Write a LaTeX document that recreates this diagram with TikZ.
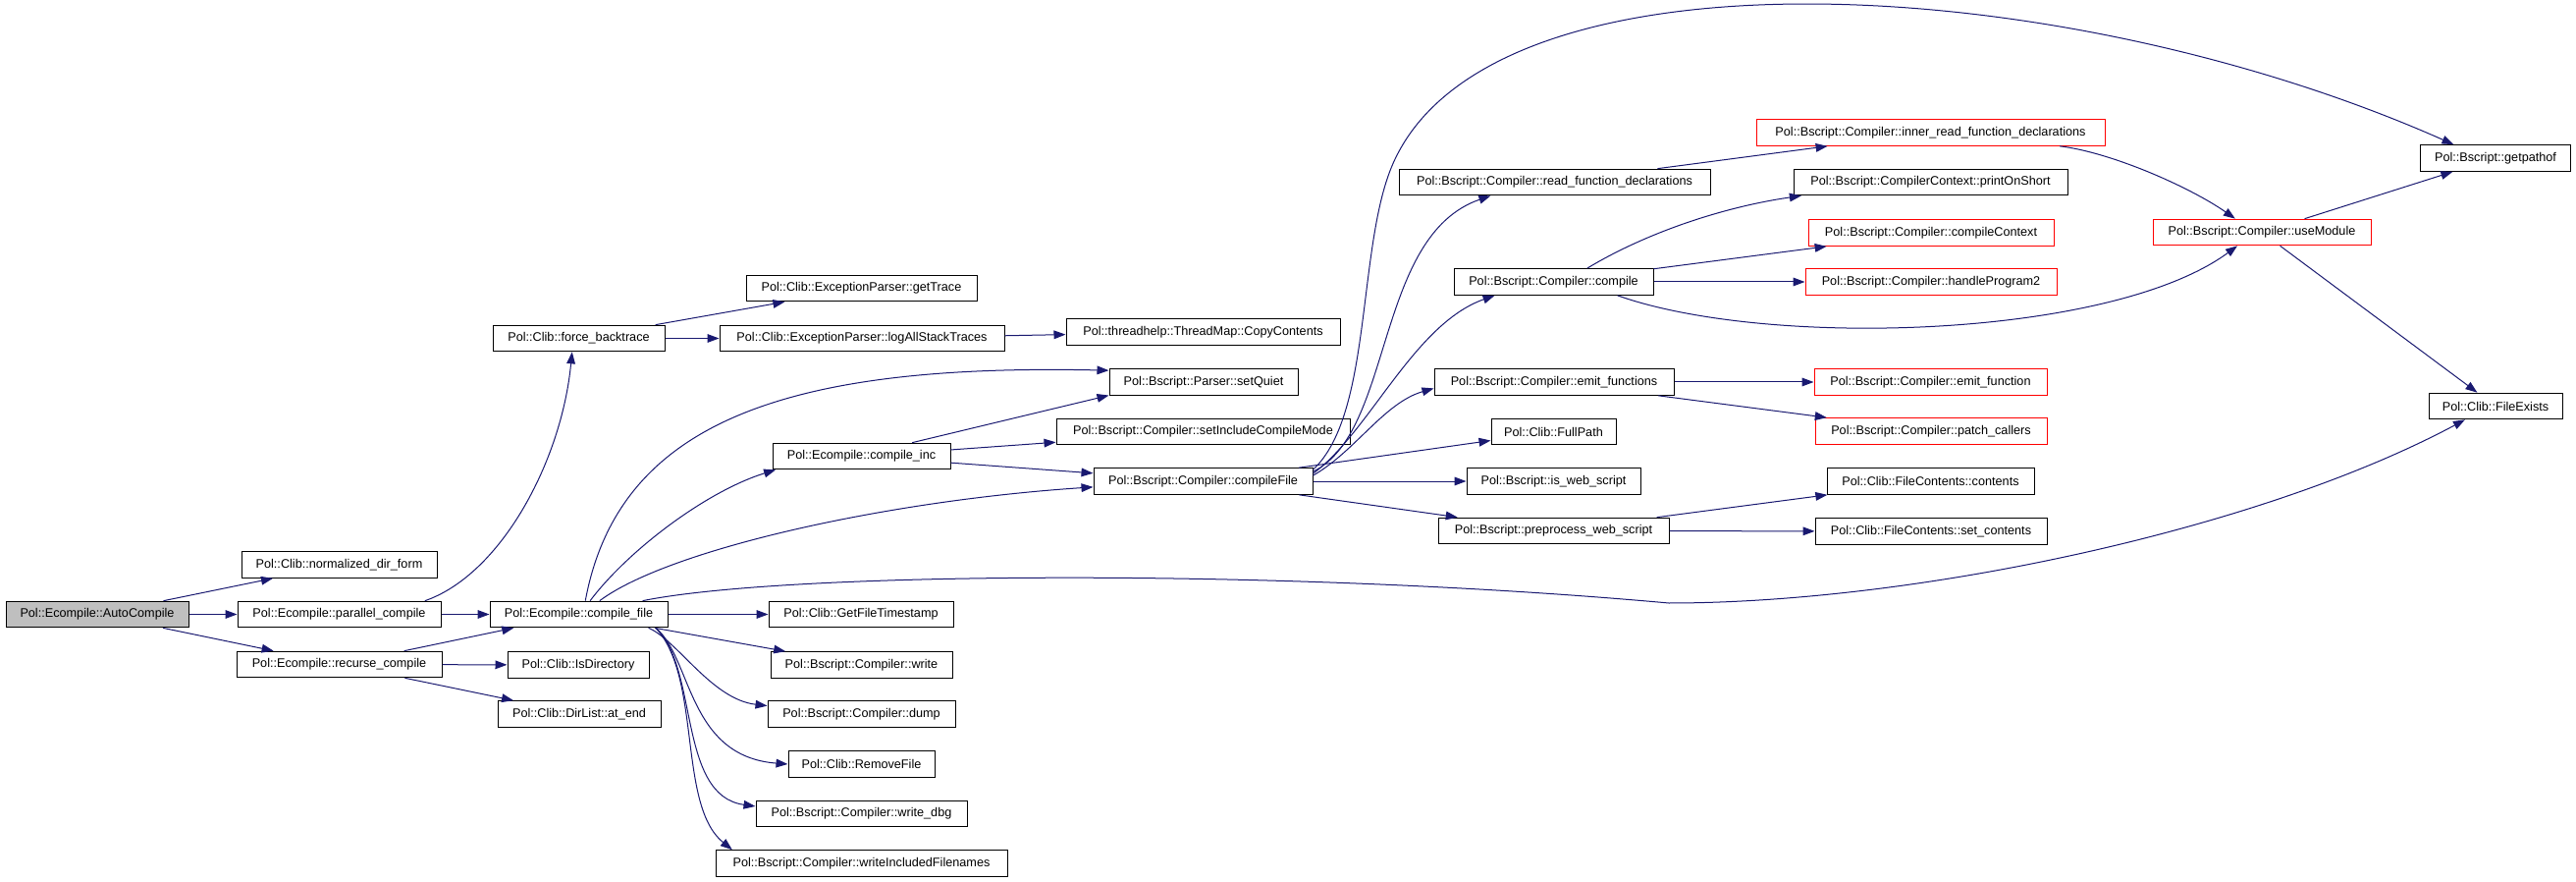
\documentclass[tikz,border=0pt]{standalone}
\usepackage{fontspec}
\setmainfont{Liberation Sans}
\usetikzlibrary{arrows.meta}

\definecolor{edgeblue}{HTML}{191970}
\definecolor{boxred}{HTML}{FF0000}
\definecolor{rootgray}{HTML}{BFBFBF}

\tikzset{
	fn/.style={draw, line width=0.75pt, inner sep=0pt, minimum height=20pt, font=\fontsize{9.5}{11}\selectfont},
	fnred/.style={fn, draw=boxred},
	bw/.style={minimum width=#1*0.75pt},
	call/.style={draw=edgeblue, line width=0.75pt, -{Triangle[length=9pt,width=6.5pt]}}
}

\begin{document}
\begin{tikzpicture}[x=0.75pt,y=-0.75pt]
	\useasboundingbox (0,0) rectangle (2624,898);

	\node[fn,bw=186,fill=rootgray] (autocompile) at (99,625.5) {Pol::Ecompile::AutoCompile};

	\node[fn,bw=199] (normdir) at (345.5,575) {Pol::Clib::normalized\_dir\_form};
	\node[fn,bw=207] (parallel) at (345.5,625.5) {Pol::Ecompile::parallel\_compile};
	\node[fn,bw=209] (recurse) at (345.5,676.5) {Pol::Ecompile::recurse\_compile};

	\node[fn,bw=175] (forcebt) at (589.5,344.5) {Pol::Clib::force\_backtrace};
	\node[fn,bw=181] (compilefile) at (589.5,625.5) {Pol::Ecompile::compile\_file};
	\node[fn,bw=144] (isdir) at (589,677) {Pol::Clib::IsDirectory};
	\node[fn,bw=166] (atend) at (590,727) {Pol::Clib::DirList::at\_end};

	\node[fn,bw=235] (gettrace) at (877.5,293.5) {Pol::Clib::ExceptionParser::getTrace};
	\node[fn,bw=290] (logall) at (878,344.5) {Pol::Clib::ExceptionParser::logAllStackTraces};
	\node[fn,bw=181] (compileinc) at (877.5,464.5) {Pol::Ecompile::compile\_inc};
	\node[fn,bw=188] (timestamp) at (877,625.5) {Pol::Clib::GetFileTimestamp};
	\node[fn,bw=185] (write) at (877.5,677) {Pol::Bscript::Compiler::write};
	\node[fn,bw=191] (dump) at (877.5,727) {Pol::Bscript::Compiler::dump};
	\node[fn,bw=149] (removefile) at (877.5,778) {Pol::Clib::RemoveFile};
	\node[fn,bw=215] (writedbg) at (877.5,828.5) {Pol::Bscript::Compiler::write\_dbg};
	\node[fn,bw=297] (writeincl) at (877.5,879) {Pol::Bscript::Compiler::writeIncludedFilenames};

	\node[fn,bw=279] (copycont) at (1225.5,338) {Pol::threadhelp::ThreadMap::CopyContents};
	\node[fn,bw=192] (setquiet) at (1226,389) {Pol::Bscript::Parser::setQuiet};
	\node[fn,bw=299] (setinclmode) at (1225.5,439.5) {Pol::Bscript::Compiler::setIncludeCompileMode};
	\node[fn,bw=223] (compilefileb) at (1225.5,490) {Pol::Bscript::Compiler::compileFile};

	\node[fn,bw=317] (readfn) at (1583.5,185.5) {Pol::Bscript::Compiler::read\_function\_declarations};
	\node[fn,bw=203] (compile) at (1582.5,287) {Pol::Bscript::Compiler::compile};
	\node[fn,bw=244] (emitfns) at (1583,389) {Pol::Bscript::Compiler::emit\_functions};
	\node[fn,bw=127] (fullpath) at (1582.5,439.5) {Pol::Clib::FullPath};
	\node[fn,bw=177] (iswebscript) at (1582.5,490) {Pol::Bscript::is\_web\_script};
	\node[fn,bw=235] (preproc) at (1582.5,540.5) {Pol::Bscript::preprocess\_web\_script};

	\node[fnred,bw=355] (innerread) at (1966.5,135) {Pol::Bscript::Compiler::inner\_read\_function\_declarations};
	\node[fn,bw=279] (printonshort) at (1966.5,185.5) {Pol::Bscript::CompilerContext::printOnShort};
	\node[fnred,bw=250] (compilectx) at (1967,237) {Pol::Bscript::Compiler::compileContext};
	\node[fnred,bw=256] (handleprog) at (1967,287) {Pol::Bscript::Compiler::handleProgram2};
	\node[fnred,bw=237] (emitfn) at (1966.5,389) {Pol::Bscript::Compiler::emit\_function};
	\node[fnred,bw=236] (patchcallers) at (1967,439) {Pol::Bscript::Compiler::patch\_callers};
	\node[fn,bw=211] (contents) at (1966.5,490) {Pol::Clib::FileContents::contents};
	\node[fn,bw=236] (setcontents) at (1967,541) {Pol::Clib::FileContents::set\_contents};

	\node[fnred,bw=222] (usemodule) at (2304,236.5) {Pol::Bscript::Compiler::useModule};

	\node[fn,bw=153] (getpathof) at (2542,161) {Pol::Bscript::getpathof};
	\node[fn,bw=136] (fileexists) at (2542,413.5) {Pol::Clib::FileExists};

	\foreach \a/\b in {autocompile/normdir, autocompile/parallel, autocompile/recurse,
		parallel/compilefile, recurse/compilefile, recurse/isdir, recurse/atend,
		forcebt/gettrace, forcebt/logall, logall/copycont,
		compilefile/timestamp, compilefile/write,
		compileinc/setinclmode, compileinc/compilefileb,
		compilefileb/fullpath, compilefileb/iswebscript, compilefileb/preproc,
		readfn/innerread, compile/compilectx, compile/handleprog,
		emitfns/emitfn, emitfns/patchcallers, preproc/contents, preproc/setcontents,
		usemodule/getpathof, usemodule/fileexists}
	{
		\draw[call] (\a) -- (\b);
	}

	\draw[call] (compileinc.15) -- (setquiet.188);
	\draw[call] (parallel.9) .. controls (510,585) and (572,470) .. (forcebt.244);
	\draw[call] (compilefile.64) .. controls (630,430) and (800,370) .. (setquiet.173);
	\draw[call] (compilefile.50) .. controls (640,560) and (720,500) .. (compileinc.189);
	\draw[call] (compilefile.33) .. controls (680,560) and (900,510) .. (compilefileb.183);
	\draw[call] (compilefile.12) .. controls (800,582) and (1300,578) .. (1700,614) .. controls (1950,614) and (2300,540) .. (fileexists.204);
	\draw[call] (compilefile.349) .. controls (690,652) and (725,712) .. (dump.175);
	\draw[call] (compilefile.350) .. controls (705,670) and (700,770) .. (removefile.180);
	\draw[call] (compilefile.350.5) .. controls (712,680) and (690,810) .. (writedbg.176);
	\draw[call] (compilefile.350) .. controls (715,690) and (690,820) .. (writeincl.174);

	\draw[call] (compilefileb.5) .. controls (1420,440) and (1400,240) .. (readfn.192);
	\draw[call] (compilefileb.4) .. controls (1395,440) and (1440,330) .. (compile.193);
	\draw[call] (compilefileb.3) .. controls (1380,460) and (1410,410) .. (emitfns.183);
	\draw[call] (compilefileb.6) .. controls (1400,420) and (1381,242) .. (1422,160) .. controls (1530,-60) and (2100,-30) .. (getpathof.162);

	\draw[call] (compile.22) .. controls (1680,235) and (1760,210) .. (printonshort.186);
	\draw[call] (compile.348) .. controls (1800,355) and (2150,345) .. (usemodule.209);
	\draw[call] (innerread.354) .. controls (2150,155) and (2230,190) .. (usemodule.153);
\end{tikzpicture}
\end{document}
